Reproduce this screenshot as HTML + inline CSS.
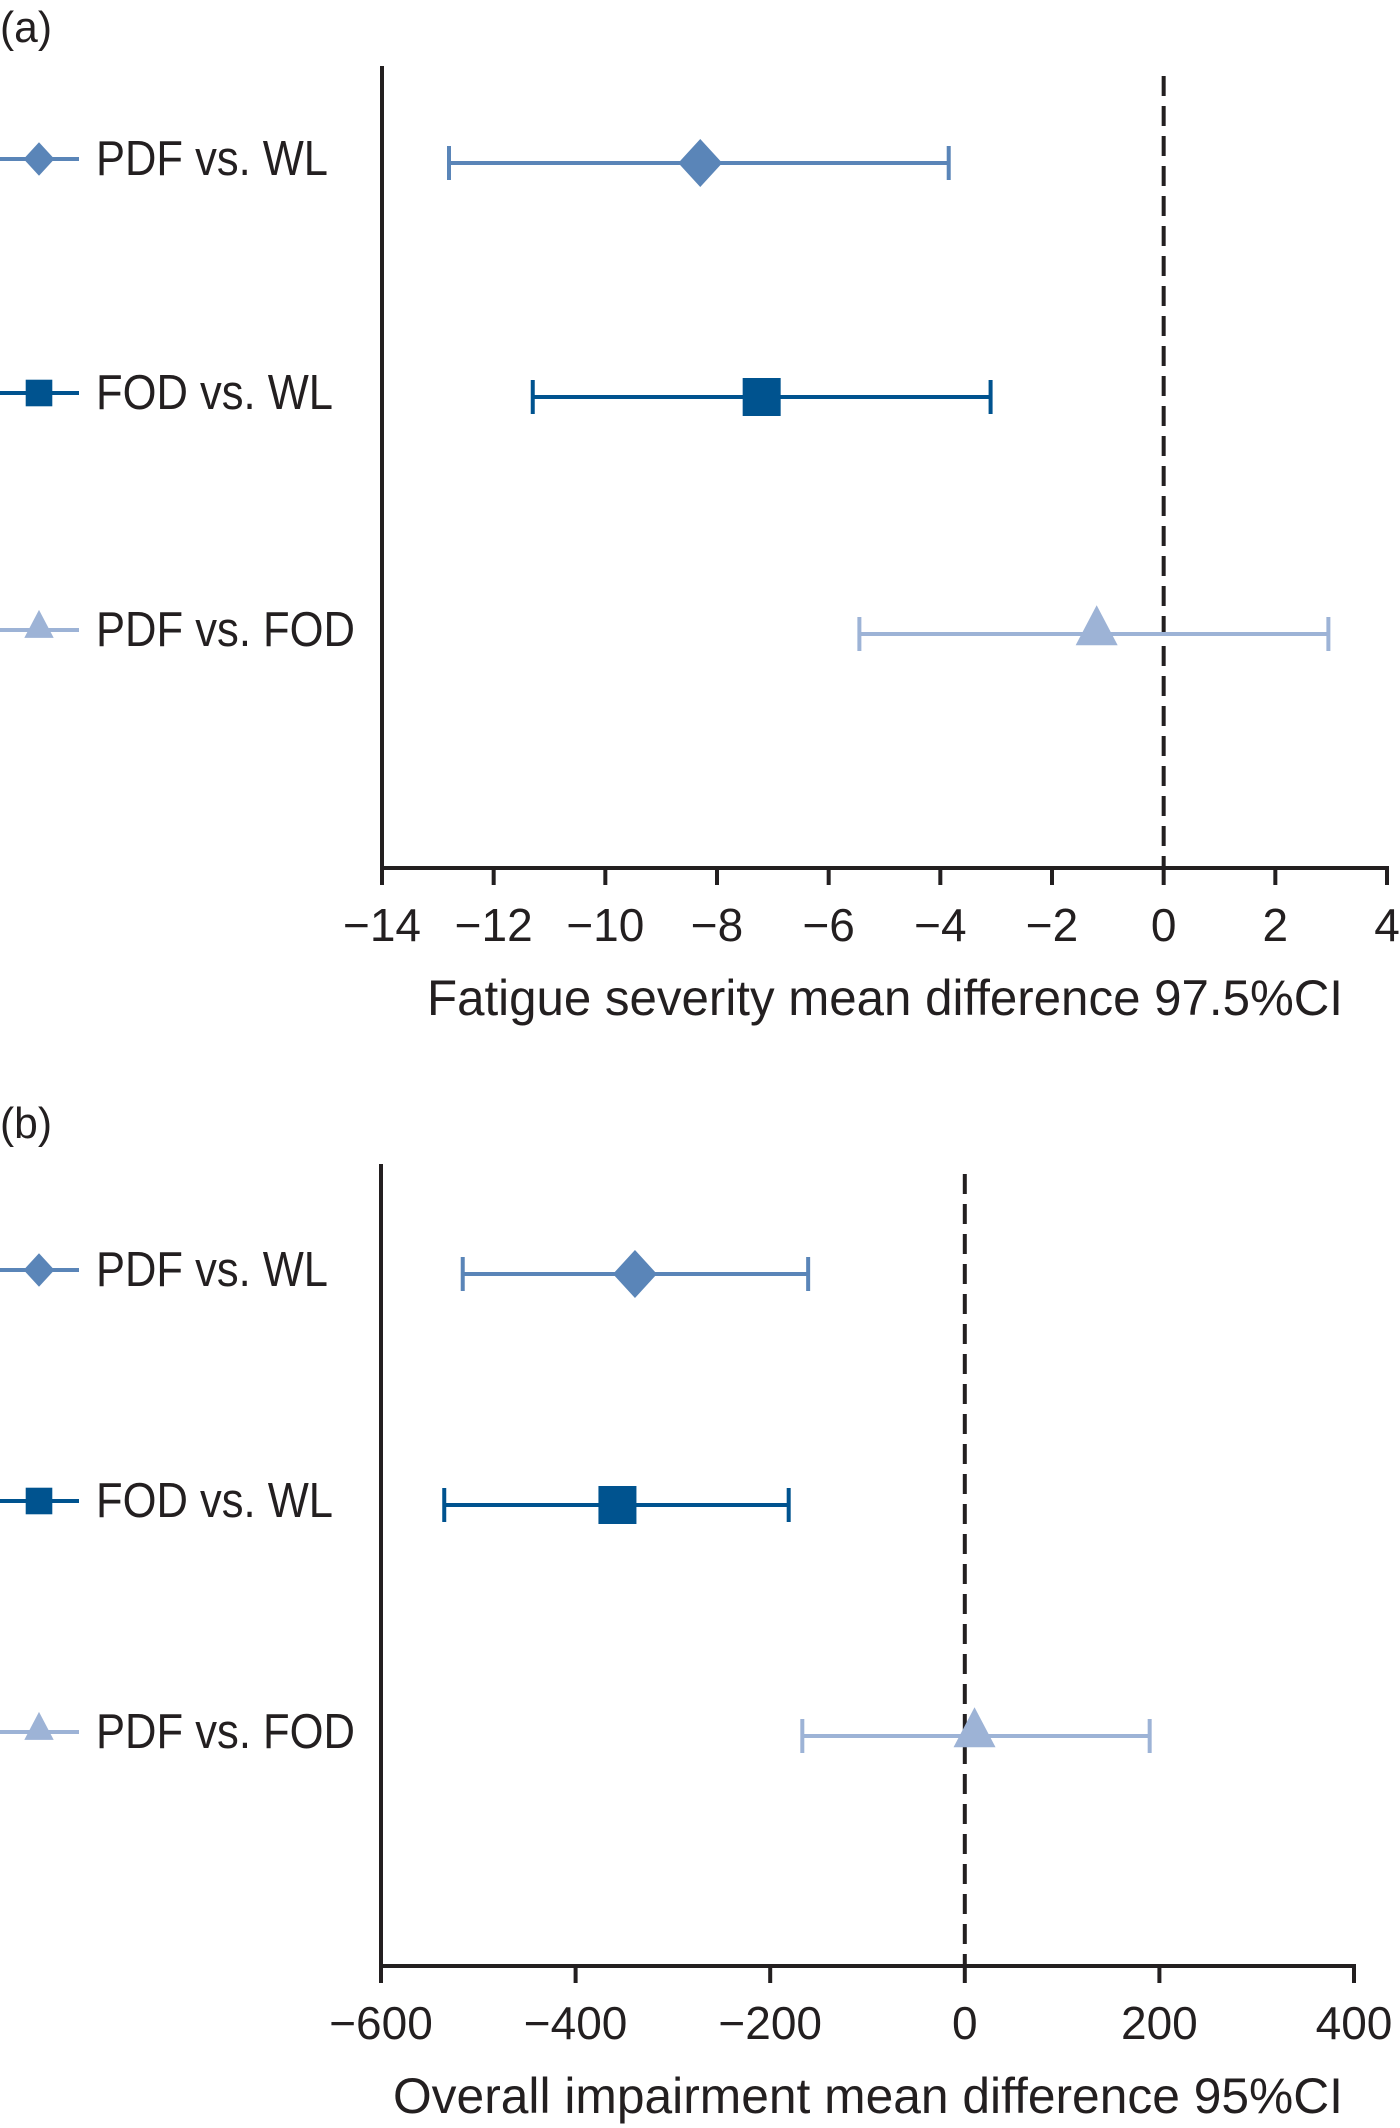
<!DOCTYPE html>
<html><head><meta charset="utf-8"><style>
html,body{margin:0;padding:0;background:#fff;}
svg{display:block;font-family:"Liberation Sans",sans-serif;}
</style></head><body>
<svg id="chart" width="1400" height="2128" viewBox="0 0 1400 2128" xmlns="http://www.w3.org/2000/svg"></svg>
<script>
const categories = ["PDF vs. WL", "FOD vs. WL", "PDF vs. FOD"];
const colors = ["#5a85b8", "#00538f", "#9db3d6"];
const shapes = ["diamond", "square", "triangle"];
const aMeans = [-8.3, -7.2, -1.2];
const aLows = [-12.8, -11.3, -5.45];
const aHighs = [-3.85, -3.1, 2.95];
const aTicks = [-14, -12, -10, -8, -6, -4, -2, 0, 2, 4];
const bMeans = [-339, -357, 10];
const bLows = [-516, -535, -167];
const bHighs = [-161, -181, 190];
const bTicks = [-600, -400, -200, 0, 200, 400];

const legendWidths = [232, 237, 259];
const NS = "http://www.w3.org/2000/svg";
const svg = document.getElementById("chart");
function mk(tag, attrs, parent) {
  const e = document.createElementNS(NS, tag);
  for (const k in attrs) e.setAttribute(k, attrs[k]);
  (parent || svg).appendChild(e);
  return e;
}
function fmt(v){ return v < 0 ? "\u2212" + Math.abs(v) : String(v); }

function panel(cfg) {
  const g = mk("g", {});
  
  
  const xMin = cfg.ticks[0], xMax = cfg.ticks[cfg.ticks.length - 1];
  const X = v => cfg.x0 + (v - xMin) / (xMax - xMin) * (cfg.x1 - cfg.x0);
  const lbl = mk("text", {x: 0, y: cfg.labelY, "font-size": 44, fill: "#231f20", textLength: 52, lengthAdjust: "spacingAndGlyphs"}, g);
  lbl.textContent = cfg.label;
  
  
  const ya = mk("line", {x1: cfg.x0, x2: cfg.x0, y1: cfg.top, y2: cfg.axisY + 2, stroke: "#231f20", "stroke-width": 4}, g);
  
  
  const xa = mk("line", {x1: cfg.x0 - 2, x2: cfg.x1 + 2, y1: cfg.axisY, y2: cfg.axisY, stroke: "#231f20", "stroke-width": 4}, g);
  
  
  cfg.ticks.forEach(t => {
    const tk = mk("line", {x1: X(t), x2: X(t), y1: cfg.axisY, y2: cfg.axisY + 17, stroke: "#231f20", "stroke-width": 4}, g);
    
    
    const tl = mk("text", {x: X(t), y: cfg.axisY + 73, "font-size": 46, "text-anchor": "middle", fill: "#231f20"}, g);
    tl.textContent = fmt(t);
    
    
  });
  const tt = mk("text", {x: cfg.titleX, y: cfg.axisY + 147, "font-size": 50, fill: "#231f20", textLength: cfg.titleW, lengthAdjust: "spacingAndGlyphs"}, g);
  tt.textContent = cfg.title;
  
  
  const ref = mk("line", {x1: X(0), x2: X(0), y1: cfg.top + 10, y2: cfg.axisY, stroke: "#231f20", "stroke-width": 4, "stroke-dasharray": "20 10"}, g);
  
  
  categories.forEach((c, i) => {
    const y = cfg.rows[i], col = colors[i];
    const lg = mk("g", {}, g);
    
    
    mk("line", {x1: 0, x2: 79, y1: y - 4, y2: y - 4, stroke: col, "stroke-width": 4}, lg);
    marker(lg, shapes[i], 39, y - 4, col, 0.7);
    const lt = mk("text", {x: 96, y: y + 12, "font-size": 49, fill: "#231f20", textLength: legendWidths[i], lengthAdjust: "spacingAndGlyphs"}, lg);
    lt.textContent = c;
    const eg = mk("g", {}, g);
    
    
    mk("line", {x1: X(cfg.lows[i]), x2: X(cfg.highs[i]), y1: y, y2: y, stroke: col, "stroke-width": 4}, eg);
    mk("line", {x1: X(cfg.lows[i]), x2: X(cfg.lows[i]), y1: y - 17, y2: y + 17, stroke: col, "stroke-width": 4}, eg);
    mk("line", {x1: X(cfg.highs[i]), x2: X(cfg.highs[i]), y1: y - 17, y2: y + 17, stroke: col, "stroke-width": 4}, eg);
    const m = marker(eg, shapes[i], X(cfg.means[i]), y, col, 1);
    
    
  });
}
function marker(parent, shape, cx, cy, col, s) {
  if (shape === "diamond") {
    const w = 22 * s, h = 24 * s;
    return mk("polygon", {points: `${cx},${cy-h} ${cx+w},${cy} ${cx},${cy+h} ${cx-w},${cy}`, fill: col}, parent);
  } else if (shape === "square") {
    const h = 19 * s;
    return mk("rect", {x: cx - h, y: cy - h, width: 2 * h, height: 2 * h, fill: col}, parent);
  } else {
    const w = 21 * s, h = 40 * s;
    return mk("polygon", {points: `${cx},${cy-h*0.72} ${cx+w},${cy+h*0.28} ${cx-w},${cy+h*0.28}`, fill: col}, parent);
  }
}
panel({name: "panel-a", label: "(a)", labelY: 42, x0: 382, x1: 1387, top: 66, axisY: 868,
  rows: [163, 397, 634], ticks: aTicks, means: aMeans, lows: aLows, highs: aHighs,
  title: "Fatigue severity mean difference 97.5%CI", titleX: 427, titleW: 916});
panel({name: "panel-b", label: "(b)", labelY: 1138, x0: 381, x1: 1354, top: 1164, axisY: 1966,
  rows: [1274, 1505, 1736], ticks: bTicks, means: bMeans, lows: bLows, highs: bHighs,
  title: "Overall impairment mean difference 95%CI", titleX: 393, titleW: 950});
</script>
</body></html>
